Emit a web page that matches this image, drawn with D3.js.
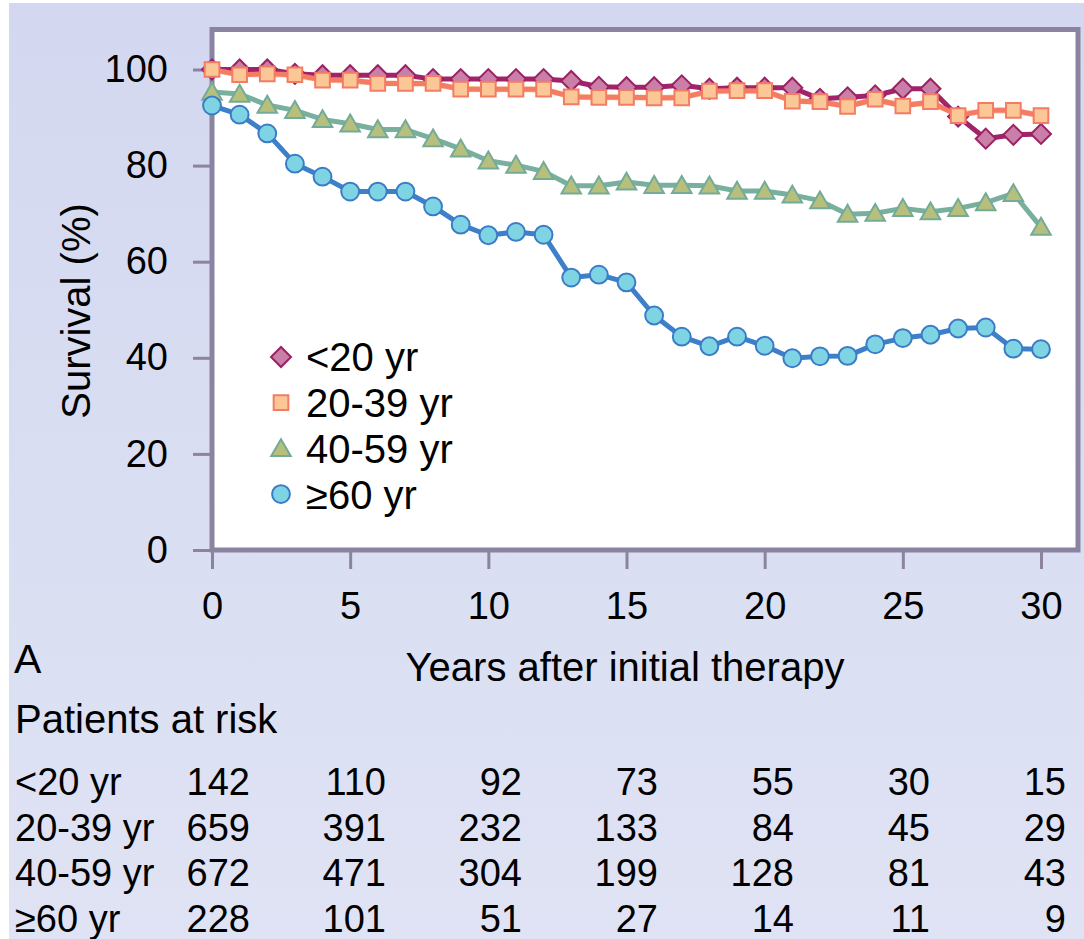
<!DOCTYPE html>
<html>
<head>
<meta charset="utf-8">
<script src="https://cdn.jsdelivr.net/npm/d3@7"></script>
<style>
	html, body { margin: 0; padding: 0; background: #fff; }
	svg { display: block; font-family: 'Liberation Sans', Arial, Helvetica, sans-serif; }
</style>
</head>
<body>
<div id="chart"></div>
<script>
// ----------------------------------
// DATA
// ----------------------------------

const years = d3.range(0, 31);

const under20 = [100, 100, 100, 99.1, 98.8, 98.8, 98.8, 98.8, 98, 98, 98, 98, 98, 97.6, 96.4,
	96.3, 96.3, 96.7, 96, 96.2, 96.2, 96.2, 93.9, 94.2, 94.6, 96, 96, 90.2, 85.6, 86.4, 86.6];
const age20to39 = [100, 98.9, 99.1, 98.9, 97.8, 97.8, 97.1, 97.1, 97.1, 95.9, 95.9, 95.9, 95.9, 94.3, 94.2,
	94.2, 94.1, 94.1, 95.5, 95.6, 95.6, 93.4, 93.3, 92.3, 93.8, 92.4, 93.3, 90.4, 91.5, 91.5, 90.4];
const age40to59 = [95.3, 94.9, 92.6, 91.5, 89.6, 88.7, 87.5, 87.5, 85.6, 83.5, 81, 80.1, 78.8, 75.8, 75.8,
	76.6, 75.9, 75.9, 75.8, 74.7, 74.7, 73.9, 72.7, 69.9, 70.1, 71.1, 70.4, 71.1, 72.3, 74.2, 67.2];
const age60plus = [92.5, 90.6, 86.7, 80.4, 77.7, 74.6, 74.6, 74.6, 71.5, 67.7, 65.5, 66.2, 65.6, 56.7, 57.3,
	55.7, 48.8, 44.4, 42.4, 44.4, 42.5, 39.9, 40.3, 40.4, 42.8, 44.1, 44.8, 46.1, 46.3, 41.9, 41.8];

const groupNames = ['<20 yr', '20-39 yr', '40-59 yr', '\u226560 yr'];
const xTicks = [0, 5, 10, 15, 20, 25, 30];
const yTicks = [0, 20, 40, 60, 80, 100];

// patients at risk, one value per x tick
const riskUnder20 = [142, 110, 92, 73, 55, 30, 15];
const risk20to39 = [659, 391, 232, 133, 84, 45, 29];
const risk40to59 = [672, 471, 304, 199, 128, 81, 43];
const risk60plus = [228, 101, 51, 27, 14, 11, 9];

// ----------------------------------
// SETUP
// ----------------------------------

const width = 1084,
	height = 939,
	frameColor = '#8a84a0',
	fontSize = 38,
	titleSize = 40;

const series = [
	{ name: groupNames[0], values: under20, line: '#a1246b', fill: '#c97fa7', stroke: '#9b2264', shape: 'diamond' },
	{ name: groupNames[1], values: age20to39, line: '#f47c64', fill: '#fbc797', stroke: '#f47c64', shape: 'square' },
	{ name: groupNames[2], values: age40to59, line: '#78b09d', fill: '#b6c07c', stroke: '#74ab98', shape: 'triangle' },
	{ name: groupNames[3], values: age60plus, line: '#3d80c9', fill: '#7fd4e4', stroke: '#3b7cc6', shape: 'circle' }
];

const riskRows = [riskUnder20, risk20to39, risk40to59, risk60plus];

const symbols = {
	diamond: d3.symbol().type(d3.symbolSquare).size(200),
	square: d3.symbol().type(d3.symbolSquare).size(215),
	triangle: d3.symbol().type(d3.symbolTriangle).size(165),
	circle: d3.symbol().type(d3.symbolCircle).size(250)
};

// scales
const x = d3.scaleLinear().domain([0, 30]).range([212, 1041]);
const y = d3.scaleLinear().domain([0, 100]).range([550, 69.5]);
// right edge of each column in the at-risk table
const tableX = d3.scaleLinear().domain([0, 30]).range([250, 1066]);

const svg = d3.select('#chart')
	.append('svg')
	.attr('width', width)
	.attr('height', height);

// background panel
const grad = svg.append('defs').append('linearGradient')
	.attr('id', 'bg')
	.attr('x1', 0).attr('y1', 0).attr('x2', 0).attr('y2', 1);
grad.append('stop').attr('offset', '0%').attr('stop-color', '#d3d8f0');
grad.append('stop').attr('offset', '100%').attr('stop-color', '#dfe3f4');

svg.append('rect')
	.attr('x', 9).attr('y', 3)
	.attr('width', width - 9).attr('height', height - 3)
	.attr('fill', 'url(#bg)');

// plot area
svg.append('rect')
	.attr('x', x(0))
	.attr('y', 29.5)
	.attr('width', 1078 - x(0))
	.attr('height', y(0) - 29.5)
	.attr('fill', '#fff');

// ----------------------------------
// AXES
// ----------------------------------

const yAxis = svg.append('g')
	.attr('transform', `translate(${ x(0) },0)`)
	.call(d3.axisLeft(y).tickValues(yTicks).tickSize(19).tickPadding(25));

const xAxis = svg.append('g')
	.attr('transform', `translate(0,${ y(0) })`)
	.call(d3.axisBottom(x).tickValues(xTicks).tickSize(19).tickPadding(23));

[yAxis, xAxis].forEach(ax => {
	ax.select('.domain').remove();
	ax.selectAll('line').attr('stroke', frameColor).attr('stroke-width', 3);
	ax.selectAll('text')
		.attr('fill', '#000')
		.style('font-family', "'Liberation Sans', Arial, Helvetica, sans-serif")
		.style('font-size', fontSize + 'px');
});

// frame
svg.append('rect')
	.attr('x', x(0))
	.attr('y', 29.5)
	.attr('width', 1078 - x(0))
	.attr('height', y(0) - 29.5)
	.attr('fill', 'none')
	.attr('stroke', frameColor)
	.attr('stroke-width', 5);

// ----------------------------------
// LINES AND MARKERS
// ----------------------------------

const line = d3.line()
	.x((d, i) => x(years[i]))
	.y(d => y(d));

// soft band under the 20-39 line
svg.append('path')
	.attr('d', line.curve(d3.curveBasis)(age20to39))
	.attr('fill', 'none')
	.attr('stroke', '#fbd3a9')
	.attr('stroke-width', 6);
line.curve(d3.curveLinear);

const markerPath = (shape) => symbols[shape]();
const markerRotate = (shape) => shape === 'diamond' ? ' rotate(45)' : '';

series.forEach(s => {
	const g = svg.append('g').attr('class', 'series');

	g.append('path')
		.attr('d', line(s.values))
		.attr('fill', 'none')
		.attr('stroke', s.line)
		.attr('stroke-width', 5)
		.attr('stroke-linejoin', 'round');

	g.selectAll('path.marker')
		.data(s.values)
		.enter()
		.append('path')
		.attr('class', 'marker')
		.attr('d', markerPath(s.shape))
		.attr('transform', (d, i) => `translate(${ x(years[i]) },${ y(d) + (s.shape === 'triangle' ? 2 : 0) })${ markerRotate(s.shape) }`)
		.attr('fill', s.fill)
		.attr('stroke', s.stroke)
		.attr('stroke-width', 2);
});

// ----------------------------------
// LEGEND
// ----------------------------------

const legend = svg.append('g')
	.attr('transform', 'translate(281,357)');

const legendItem = legend.selectAll('g')
	.data(series)
	.enter()
	.append('g')
	.attr('transform', (d, i) => `translate(0,${ i * 45.7 })`);

legendItem.append('path')
	.attr('d', d => markerPath(d.shape))
	.attr('transform', d => `translate(0,${ d.shape === 'triangle' ? 2 : 0 })${ markerRotate(d.shape) }`)
	.attr('fill', d => d.fill)
	.attr('stroke', d => d.stroke)
	.attr('stroke-width', 2);

legendItem.append('text')
	.attr('x', 25)
	.attr('dy', '0.36em')
	.style('font-size', titleSize + 'px')
	.text(d => d.name);

// ----------------------------------
// TITLES
// ----------------------------------

svg.append('text')
	.attr('transform', 'translate(90,311) rotate(-90)')
	.attr('text-anchor', 'middle')
	.style('font-size', titleSize + 'px')
	.text('Survival (%)');

svg.append('text')
	.attr('x', 625)
	.attr('y', 681)
	.attr('text-anchor', 'middle')
	.style('font-size', titleSize + 'px')
	.text('Years after initial therapy');

svg.append('text')
	.attr('x', 14)
	.attr('y', 673)
	.style('font-size', '41px')
	.text('A');

// ----------------------------------
// PATIENTS AT RISK
// ----------------------------------

svg.append('text')
	.attr('x', 15)
	.attr('y', 733)
	.style('font-size', titleSize + 'px')
	.text('Patients at risk');

const rows = svg.append('g').selectAll('g')
	.data(riskRows)
	.enter()
	.append('g')
	.attr('transform', (d, i) => `translate(0,${ 795 + i * 45.7 })`);

rows.append('text')
	.attr('x', 15)
	.style('font-size', fontSize + 'px')
	.text((d, i) => groupNames[i]);

rows.selectAll('text.count')
	.data(d => d)
	.enter()
	.append('text')
	.attr('class', 'count')
	.attr('x', (d, i) => tableX(xTicks[i]))
	.attr('text-anchor', 'end')
	.style('font-size', fontSize + 'px')
	.text(d => d);
</script>
</body>
</html>
